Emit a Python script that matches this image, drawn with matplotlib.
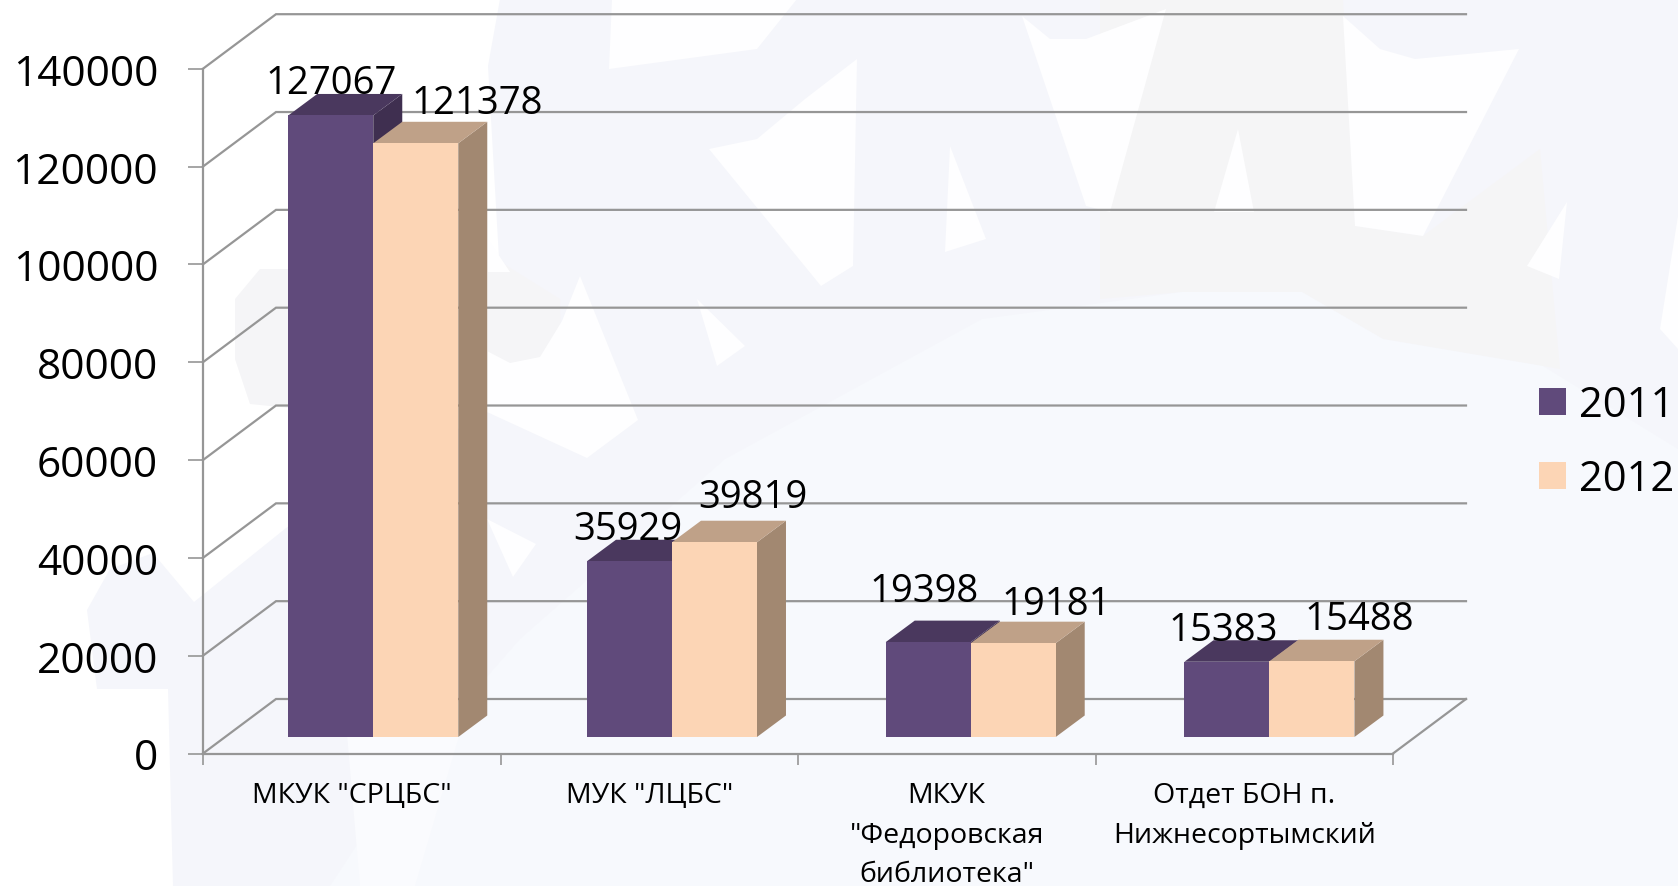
import matplotlib
matplotlib.use("Agg")
import matplotlib.pyplot as plt
from matplotlib.patches import Polygon, Patch

W, H = 1678, 887
categories = ['МКУК "СРЦБС"', 'МУК "ЛЦБС"', 'МКУК\n"Федоровская\nбиблиотека"', 'Отдет БОН п.\nНижнесортымский']
series_names = ['2011', '2012']
values_2011 = [127067, 35929, 19398, 15383]
values_2012 = [121378, 39819, 19181, 15488]
y_ticks = [0, 20000, 40000, 60000, 80000, 100000, 120000, 140000]

FONT = ['Open Sans', 'DejaVu Sans']
plt.rcParams['font.family'] = FONT
GRID = '#969696'
C1 = ('#604a7b', '#4a385e', '#3f2f50')
C2 = ('#fcd5b5', '#bfa188', '#a28871')

def rect(l, t, r, b):
    return [l / W, 1 - b / H, (r - l) / W, (b - t) / H]

fig = plt.figure(figsize=(W / 100, H / 100), dpi=100, facecolor='#ffffff')

# pale watermark backdrop (decoration, in pixel coordinates)
bg = fig.add_axes([0, 0, 1, 1], zorder=0)
bg.set_xlim(0, W); bg.set_ylim(H, 0); bg.axis('off')
def shape(pts, col):
    bg.add_patch(Polygon(pts, closed=True, fc=col, ec='none'))

shape([(500, 0), (1678, 0), (1678, 887), (173, 887), (168, 690), (97, 690), (87, 611), (110, 570),
       (153, 554), (194, 603), (204, 595), (286, 529), (488, 413), (500, 277), (488, 67)], '#f5f6fb')
shape([(235, 300), (260, 270), (300, 270), (300, 410), (250, 405), (235, 360)], '#f5f5f7')
shape([(1100, 0), (1343, 0), (1355, 227), (1423, 237), (1540, 150), (1560, 370), (1383, 340),
       (1302, 293), (1182, 293), (1100, 300)], '#f5f5f6')
shape([(488, 255), (560, 300), (562, 420), (488, 413)], '#f5f5f7')
for pts in [
    [(612, 0), (797, 0), (757, 50), (609, 70)],
    [(857, 60), (853, 267), (821, 287), (709, 150), (757, 140), (805, 100)],
    [(950, 147), (986, 240), (945, 253)],
    [(1022, 17), (1050, 40), (1086, 40), (1166, 10), (1110, 213), (1086, 207)],
    [(1238, 130), (1254, 213), (1214, 213)],
    [(1343, 17), (1380, 50), (1415, 60), (1519, 50), (1423, 237), (1355, 227)],
    [(1567, 203), (1559, 280), (1527, 267)],
    [(1678, 217), (1660, 330), (1678, 350)],
    [(580, 277), (638, 421), (587, 459), (487, 413), (487, 352), (510, 364), (540, 358), (562, 322)],
    [(488, 240), (510, 273), (488, 273)],
    [(697, 300), (745, 347), (717, 367)],
    [(487, 520), (536, 545), (513, 578)],
]:
    shape(pts, '#fefeff')
shape([(1678, 450), (1543, 367), (1383, 340), (1302, 293), (1182, 293), (982, 320), (725, 460),
       (520, 640), (408, 768), (330, 887), (1678, 887)], '#f7f9fd')
shape([(347, 735), (470, 700), (415, 887), (360, 887)], '#fafbfe')

# front plane of the chart: wall and floor are offset from it
ax = fig.add_axes(rect(203, 69.7, 1393, 754.5), zorder=1)
ax.patch.set_alpha(0)
ax.set_xlim(0, 4); ax.set_ylim(0, 140000)
DX = 73 / (1190 / 4)
DY = 54.5 / (684.8 / 140000)
n = len(categories)
for v in y_ticks:
    ax.plot([0, DX, n + DX], [v, v + DY, v + DY], color=GRID, lw=1.6, clip_on=False, zorder=1, solid_joinstyle='miter')
ax.plot([n, n + DX], [0, DY], color=GRID, lw=1.6, clip_on=False, zorder=1)
for s in ('top', 'right'):
    ax.spines[s].set_visible(False)
for s in ('left', 'bottom'):
    ax.spines[s].set_color(GRID); ax.spines[s].set_linewidth(1.6)
ax.set_yticks(y_ticks)
ax.set_yticklabels([str(v) for v in y_ticks], fontsize=30.5, color='black')
ax.tick_params(axis='y', length=10.8, width=1.2, color=GRID, pad=21.5)
ax.set_xticks(range(n + 1))
ax.set_xticklabels([])
ax.tick_params(axis='x', which='major', length=8, width=1.2, color=GRID)
ax.set_xticks([i + .5 for i in range(n)], minor=True)
ax.set_xticklabels(categories, minor=True, fontsize=20.5, color='black', linespacing=1.54, va='top')
ax.tick_params(axis='x', which='minor', length=0, pad=20)

# bars sit part-way into the depth of the floor
bx = fig.add_axes(rect(223.9, 53.2, 1418.8, 738), zorder=2)
bx.patch.set_alpha(0); bx.axis('off')
bx.set_xlim(0, 4); bx.set_ylim(0, 140000)
BW = 85 / 298.73
dx = 29 / 298.73
dy = 21.5 / (684.8 / 140000)

def draw_series(vals, shift, cols):
    for i, v in enumerate(vals):
        l = i + .5 + shift
        r = l + BW
        bx.add_patch(Polygon([(r, 0), (r + dx, dy), (r + dx, v + dy), (r, v)], fc=cols[2], ec='none', clip_on=False))
        bx.add_patch(Polygon([(l, v), (r, v), (r + dx, v + dy), (l + dx, v + dy)], fc=cols[1], ec='none', clip_on=False))
        bx.bar(l, v, BW, align='edge', color=cols[0], lw=0, clip_on=False)

draw_series(values_2011, -BW, C1)
draw_series(values_2012, 0, C2)

# hand-placed value labels, offsets in px from each bar's top centre
off_1 = [(0, 32), (-1.5, 32.5), (-4.5, 51.5), (-4, 31.5)]
off_2 = [(61, 40.3), (38, 45.5), (43, 39.5), (47, 42.5)]
for vals, shift, offs in ((values_2011, -BW / 2, off_1), (values_2012, BW / 2, off_2)):
    for i, v in enumerate(vals):
        bx.annotate(str(v), (i + .5 + shift, v), xytext=(offs[i][0] * .72, offs[i][1] * .72),
                    textcoords='offset points', ha='center', va='center', fontsize=27.5,
                    color='black', zorder=5, annotation_clip=False)

leg = fig.legend(handles=[Patch(fc=C1[0], label=series_names[0]), Patch(fc=C2[0], label=series_names[1])],
                 loc='center left', bbox_to_anchor=(1539 / W, 1 - 443 / H), frameon=False,
                 fontsize=30, handlelength=.64, handleheight=.64, handletextpad=.33,
                 labelspacing=.77, borderpad=0, borderaxespad=0)
fig.savefig('out.png', dpi=100, facecolor=fig.get_facecolor())
